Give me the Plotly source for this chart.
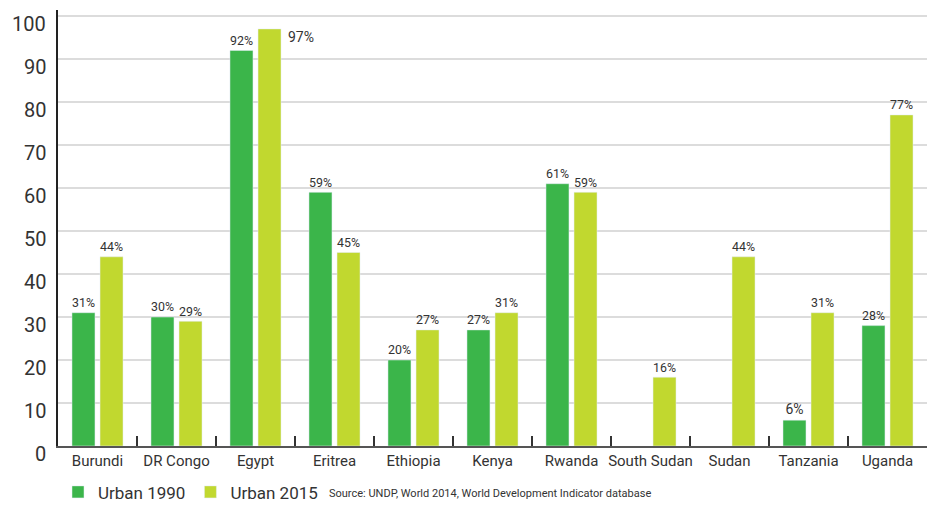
import plotly.graph_objects as go

countries = ["Burundi", "DR Congo", "Egypt", "Eritrea", "Ethiopia", "Kenya",
             "Rwanda", "South Sudan", "Sudan", "Tanzania", "Uganda"]
urban_1990 = [31, 30, 92, 59, 20, 27, 61, None, None, 6, 28]
urban_2015 = [44, 29, 97, 45, 27, 31, 59, 16, 44, 31, 77]
y_ticks = [0, 10, 20, 30, 40, 50, 60, 70, 80, 90, 100]

GREEN = "#3bb54a"
LIME = "#c1d82f"
FONT = "Roboto"
TEXT = "#333333"


def labels(vals):
    return [f"{v}%" if v is not None else "" for v in vals]


# Egypt 2015 reaches the top of the scale, so its label sits beside the bar
label_2015 = labels(urban_2015)
side_idx = urban_2015.index(max(urban_2015))
label_2015[side_idx] = ""

fig = go.Figure()
fig.add_trace(go.Bar(
    x=countries, y=urban_1990, name="Urban 1990", marker_color=GREEN,
    text=labels(urban_1990), textposition="outside", cliponaxis=False,
    textfont=dict(family=FONT, size=14, color=TEXT),
))
fig.add_trace(go.Bar(
    x=countries, y=urban_2015, name="Urban 2015", marker_color=LIME,
    text=label_2015, textposition="outside", cliponaxis=False,
    textfont=dict(family=FONT, size=14, color=TEXT),
))

fig.add_annotation(
    x=countries[side_idx], y=urban_2015[side_idx], xref="x", yref="y",
    text=f"{urban_2015[side_idx]}%", showarrow=False,
    xshift=45, yshift=-8, font=dict(family=FONT, size=14, color=TEXT),
)

# y tick labels sit slightly below their gridlines
for t in y_ticks:
    fig.add_annotation(
        x=0, y=t, xref="paper", yref="y", xanchor="right", yanchor="middle",
        text=str(t), showarrow=False, xshift=-10, yshift=-8,
        font=dict(family=FONT, size=20, color=TEXT),
    )

fig.add_annotation(
    x=0.31, y=-0.108, xref="paper", yref="paper", xanchor="left", yanchor="middle",
    text="Source: UNDP, World 2014, World Development Indicator database",
    showarrow=False, font=dict(family=FONT, size=11, color=TEXT),
)

fig.update_layout(
    width=940, height=506,
    margin=dict(l=58, r=13, t=10, b=60, autoexpand=False),
    paper_bgcolor="white", plot_bgcolor="white",
    barmode="group", bargap=0.29, bargroupgap=0.18,
    showlegend=True,
    legend=dict(orientation="h", x=0.0, y=-0.065, xanchor="left", yanchor="top",
                font=dict(family=FONT, size=17, color=TEXT),
                itemwidth=30, traceorder="normal"),
    font=dict(family=FONT, color=TEXT),
)

fig.update_xaxes(
    showline=True, linecolor="#555555", linewidth=2,
    ticks="inside", tickson="boundaries", ticklen=10, tickcolor="#333333",
    tickwidth=1.5, showgrid=False, tickangle=0, automargin=False,
    tickfont=dict(family=FONT, size=15, color=TEXT),
)
fig.update_yaxes(
    range=[0, 101.4], tickmode="array", tickvals=y_ticks,
    showticklabels=False,
    showline=True, linecolor="#222222", linewidth=2,
    showgrid=True, gridcolor="#dcdcdc", gridwidth=1.5,
    zeroline=False, ticks="", automargin=False,
)

fig.write_html("out.html")
